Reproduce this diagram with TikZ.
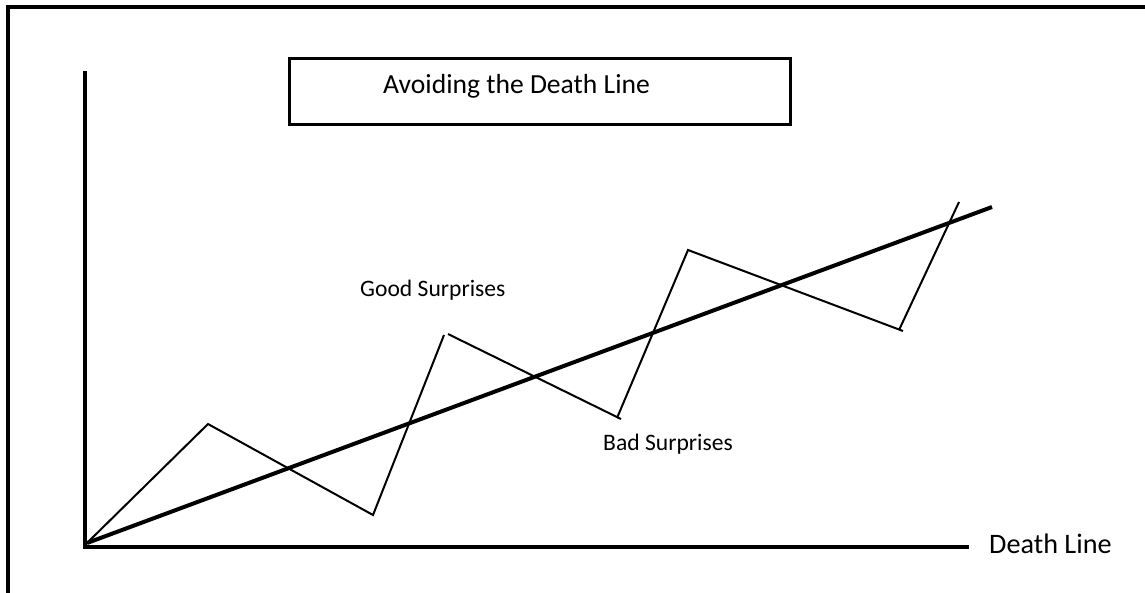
\documentclass[tikz,border=0pt]{standalone}
\usepackage{fontspec}
\setmainfont{Carlito}
\begin{document}
\begin{tikzpicture}[x=1pt,y=-1pt,
  frame/.style={line width=3.5pt},
  axis/.style={line width=4pt},
  zig/.style={line width=2pt},
  trend/.style={line width=4pt},
  biglabel/.style={font=\fontsize{27.6}{32}\selectfont, inner sep=0pt},
  smalllabel/.style={font=\fontsize{23.6}{28}\selectfont, inner sep=0pt}]
\useasboundingbox (0,0) rectangle (1145,592);
% outer frame
\draw[frame] (8,600) -- (8,7) -- (1150,7);
% title box
\node[draw, line width=3pt, minimum width=501pt, minimum height=66pt, inner sep=0pt] (titlebox) at (539.5,91) {};
\node[biglabel, anchor=base west] (title) at (383,93) {Avoiding the Death Line};
% axes
\coordinate (ytop) at (85,71);
\coordinate (orig) at (85,547);
\coordinate (xend) at (969,547);
\draw[axis] (ytop) -- (orig) -- (xend);
\node[biglabel, anchor=base west, font=\fontsize{28.2}{32}\selectfont] (deathlabel) at (989,553) {Death Line};
% zigzag
\coordinate (z0) at (87,543);
\coordinate (z1) at (208,424);
\coordinate (z2) at (373,515);
\coordinate (z3a) at (444,335);
\coordinate (z3b) at (448,334);
\coordinate (z4) at (617,418);
\coordinate (z4t) at (621,419);
\coordinate (z5) at (688,250);
\coordinate (z6) at (899,330);
\coordinate (z6t) at (903,331);
\coordinate (z7) at (959,202);
\draw[zig] (z0) -- (z1) -- (z2) -- (z3a);
\draw[zig] (z3b) -- (z4t);
\draw[zig] (z4) -- (z5) -- (z6t);
\draw[zig] (z6) -- (z7);
% trend line
\coordinate (t1) at (992,207);
\draw[trend] (z0) -- (t1);
% labels
\node[smalllabel, anchor=base west] (good) at (360,296) {Good Surprises};
\node[smalllabel, anchor=base west] (bad) at (603,450) {Bad Surprises};
\end{tikzpicture}
\end{document}
